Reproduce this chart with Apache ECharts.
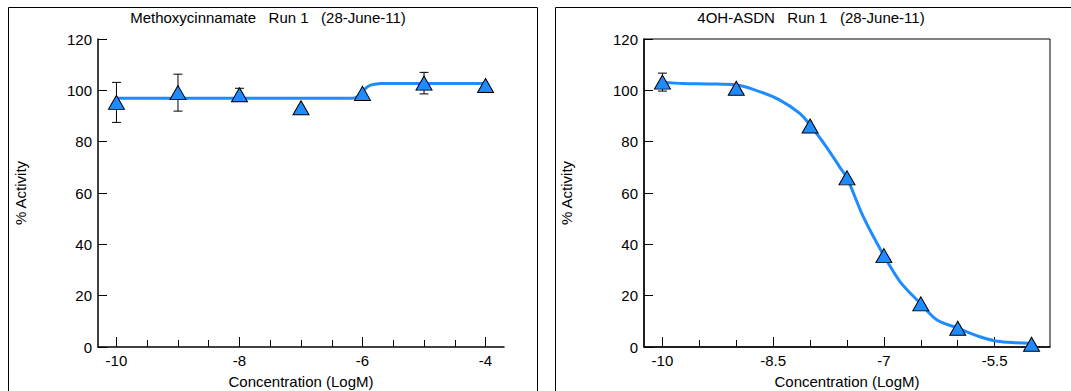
<!DOCTYPE html>
<html>
<head>
<meta charset="utf-8">
<script src="https://cdn.jsdelivr.net/npm/echarts@6/dist/echarts.min.js"></script>
<style>
html,body{margin:0;padding:0;background:#fff;}
#c{width:1071px;height:391px;}
</style>
</head>
<body>
<div id="c"></div>
<script>
// ---- data ----
const leftTitle = 'Methoxycinnamate   Run 1   (28-June-11)';
const rightTitle = '4OH-ASDN   Run 1   (28-June-11)';
const xName = 'Concentration (LogM)';
const yName = '% Activity';

const leftX = [-10, -9, -8, -7, -6, -5, -4];
const leftY = [95.3, 99.1, 98.3, 93.2, 98.8, 102.8, 101.9];
const leftErr = [7.8, 7.2, 2.5, 0, 0, 4.2, 0];
const leftCurveX = [-10, -6.2, -6.1, -6.0, -5.9, -5.8, -5.7, -4];
const leftCurveY = [96.9, 96.9, 97.3, 99.6, 101.7, 102.4, 102.7, 102.7];

const rightX = [-10, -9, -8, -7.5, -7, -6.5, -6, -5];
const rightY = [103.2, 100.8, 86.1, 65.9, 35.6, 16.8, 7.3, 1.1];
const rightErr = [3.5, 0, 0, 0, 0, 0, 0, 0];
const rightCurveX = [-10, -9.72, -9.36, -9.0, -8.77, -8.41, -8.14, -8.0, -7.78, -7.6, -7.5, -7.28, -7.0, -6.78, -6.51, -6.28, -6.0, -5.7, -5.43, -5.0];
const rightCurveY = [103.1, 102.7, 102.5, 102.1, 100.4, 96.2, 91.0, 86.5, 78.0, 70.2, 65.9, 50.8, 35.6, 25.4, 17.1, 10.5, 7.4, 4.0, 2.1, 1.4];

const leftXTicks = [-10, -8, -6, -4];
const leftXMinor = [-10, -9.5, -9, -8.5, -8, -7.5, -7, -6.5, -6, -5.5, -5, -4.5, -4];
const rightXTicks = [-10, -8.5, -7, -5.5];
const rightXMinor = [-10, -9.5, -9, -8.5, -8, -7.5, -7, -6.5, -6, -5.5];
const yTickInterval = 20;
const yMin = 0, yMax = 120;
const leftXRange = [-10.3, -3.7];
const rightXRange = [-10.25, -4.75];

// ---- chart ----
const FONT = 'Liberation Sans, Arial, sans-serif';
const BLUE = '#1e8cff';
const chart = echarts.init(document.getElementById('c'), null, {renderer: 'svg'});

function zip(a, b) { return a.map((v, i) => [v, b[i]]); }
function errData(xs, ys, es) {
  const out = [];
  xs.forEach((x, i) => { if (es[i] > 0) out.push([x, ys[i] - es[i], ys[i] + es[i]]); });
  return out;
}
function errRender(params, api) {
  const x = api.value(0), lo = api.value(1), hi = api.value(2);
  const a = api.coord([x, hi]), b = api.coord([x, lo]);
  const w = 4.5;
  const st = {stroke: '#000', lineWidth: 1};
  return {type: 'group', children: [
    {type: 'line', shape: {x1: a[0], y1: a[1], x2: b[0], y2: b[1]}, style: st},
    {type: 'line', shape: {x1: a[0] - w, y1: a[1], x2: a[0] + w, y2: a[1]}, style: st},
    {type: 'line', shape: {x1: b[0] - w, y1: b[1], x2: b[0] + w, y2: b[1]}, style: st}
  ]};
}
function xAxesFor(gi, range, minor, major) {
  return [
    {gridIndex: gi, type: 'value', position: 'bottom', min: range[0], max: range[1],
     axisLine: {show: true, onZero: false, lineStyle: {color: '#000', width: 1.5}},
     axisTick: {show: true, inside: true, length: 7, customValues: minor, lineStyle: {color: '#000'}},
     axisLabel: {show: false}, splitLine: {show: false}},
    {gridIndex: gi, type: 'value', position: 'bottom', offset: 0, min: range[0], max: range[1],
     axisLine: {show: false, onZero: false},
     axisTick: {show: true, inside: true, length: 10, customValues: major, lineStyle: {color: '#000'}},
     axisLabel: {show: true, customValues: major, color: '#000', fontSize: 15, fontFamily: FONT, margin: 6},
     splitLine: {show: false},
     name: xName, nameLocation: 'middle', nameGap: 27,
     nameTextStyle: {color: '#000', fontSize: 15, fontFamily: FONT}}
  ];
}
function yAxisFor(gi) {
  return {gridIndex: gi, type: 'value', min: yMin, max: yMax, interval: yTickInterval,
    axisLine: {show: true, onZero: false, lineStyle: {color: '#000', width: 1.5}},
    axisTick: {show: true, inside: true, length: 9, lineStyle: {color: '#000'}},
    axisLabel: {color: '#000', fontSize: 15, fontFamily: FONT, margin: 6},
    splitLine: {show: false},
    name: yName, nameLocation: 'middle', nameGap: 70,
    nameTextStyle: {color: '#000', fontSize: 15, fontFamily: FONT}};
}
function seriesFor(gi, xi, curveX, curveY, xs, ys, es) {
  return [
    {type: 'line', xAxisIndex: xi, yAxisIndex: gi, data: zip(curveX, curveY), smooth: 0.3,
     showSymbol: false, lineStyle: {color: BLUE, width: 3}, z: 2, silent: true},
    {type: 'custom', xAxisIndex: xi, yAxisIndex: gi, data: errData(xs, ys, es),
     renderItem: errRender, z: 3, silent: true},
    {type: 'scatter', xAxisIndex: xi, yAxisIndex: gi, data: zip(xs, ys), symbol: 'triangle',
     symbolSize: [16, 14], itemStyle: {color: BLUE, borderColor: '#000', borderWidth: 1, opacity: 1}, z: 4}
  ];
}

const option = {
  backgroundColor: '#fff',
  animation: false,
  textStyle: {fontFamily: FONT},
  graphic: [
    {type: 'rect', shape: {x: 8.5, y: 7.5, width: 529, height: 420}, style: {fill: 'none', stroke: '#000', lineWidth: 1}},
    {type: 'rect', shape: {x: 555.5, y: 7.5, width: 529, height: 420}, style: {fill: 'none', stroke: '#000', lineWidth: 1}},
    {type: 'text', x: 268, y: 10, style: {text: leftTitle, fill: '#000', font: '15px ' + FONT, textAlign: 'center', textVerticalAlign: 'top'}},
    {type: 'text', x: 811, y: 10, style: {text: rightTitle, fill: '#000', font: '15px ' + FONT, textAlign: 'center', textVerticalAlign: 'top'}}
  ],
  grid: [
    {left: 98, top: 39, width: 406, height: 308, show: false, outerBoundsMode: 'none', containLabel: false},
    {left: 644, top: 39, width: 406, height: 308, show: true, borderColor: '#000', borderWidth: 1, backgroundColor: 'transparent', outerBoundsMode: 'none', containLabel: false}
  ],
  xAxis: [].concat(xAxesFor(0, leftXRange, leftXMinor, leftXTicks), xAxesFor(1, rightXRange, rightXMinor, rightXTicks)),
  yAxis: [yAxisFor(0), yAxisFor(1)],
  series: [].concat(
    seriesFor(0, 0, leftCurveX, leftCurveY, leftX, leftY, leftErr),
    seriesFor(1, 2, rightCurveX, rightCurveY, rightX, rightY, rightErr)
  )
};
chart.setOption(option);
</script>
</body>
</html>
